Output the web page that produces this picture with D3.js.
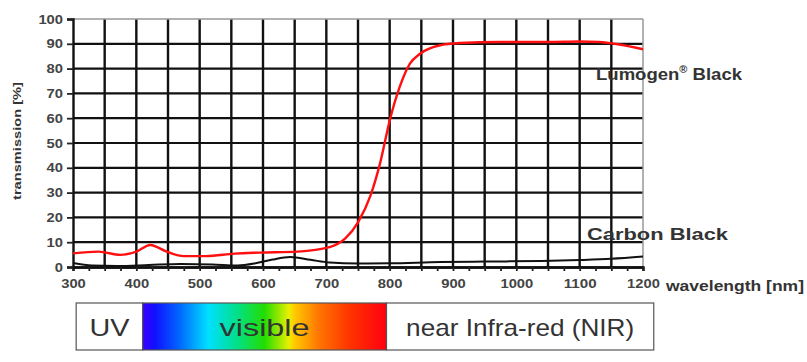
<!DOCTYPE html>
<html>
<head>
<meta charset="utf-8">
<script src="https://cdn.jsdelivr.net/npm/d3@7"></script>
<style>
  body { margin: 0; background: #fff; }
  svg { font-family: "Liberation Sans", Arial, sans-serif; }
</style>
</head>
<body>
<div id="chart"></div>
<script>
// Wavelength (nm) and transmission (%)
const lumogenNm  = [300, 340, 375, 400, 422, 448, 475, 510, 555, 595, 655, 705, 730, 750, 770, 785, 800, 815, 832, 848, 878, 910, 975, 1050, 1100, 1130, 1160, 1200];
const lumogenVal = [5.5, 6.2, 4.9, 6.2, 8.9, 6.2, 4.4, 4.4, 5.4, 5.8, 6.2, 8.0, 11.5, 18, 29, 42, 59, 72, 82, 86, 89.3, 90.3, 90.7, 90.7, 90.9, 90.7, 89.8, 87.8];

const carbonNm  = [300, 330, 370, 420, 470, 520, 560, 590, 615, 643, 675, 705, 750, 800, 880, 950, 1040, 1100, 1150, 1200];
const carbonVal = [1.6, 0.6, 0.4, 0.8, 1.2, 1.0, 0.6, 1.6, 3.0, 4.0, 2.9, 1.8, 1.4, 1.5, 2.0, 2.2, 2.4, 2.8, 3.3, 4.2];

const xTicks = [300, 400, 500, 600, 700, 800, 900, 1000, 1100, 1200];
const yTicks = [0, 10, 20, 30, 40, 50, 60, 70, 80, 90, 100];

// spectrum strip under the chart, in nm
const bandNames = ["UV", "visible", "near Infra-red (NIR)"];
const bandStart = [305, 410, 795];
const bandEnd   = [410, 795, 1217];

const width = 807, height = 362;
const margin = {top: 19, right: 164, bottom: 95, left: 73};
const plotW = width - margin.left - margin.right;
const plotH = height - margin.top - margin.bottom;

const svg = d3.select("#chart")
  .append("svg")
  .attr("width", width)
  .attr("height", height);

const g = svg.append("g")
  .attr("transform", `translate(${margin.left},${margin.top})`);

const x = d3.scaleLinear().domain([300, 1200]).range([0, plotW]);
const y = d3.scaleLinear().domain([0, 100]).range([plotH, 0]);

// grid
g.selectAll(".vgrid")
  .data(d3.range(350, 1200, 50))
  .enter().append("line")
  .attr("x1", d => x(d)).attr("x2", d => x(d))
  .attr("y1", 0).attr("y2", plotH)
  .attr("stroke", "#111").attr("stroke-width", 2.4);

g.selectAll(".hgrid")
  .data(d3.range(10, 100, 10))
  .enter().append("line")
  .attr("x1", 0).attr("x2", plotW)
  .attr("y1", d => y(d)).attr("y2", d => y(d))
  .attr("stroke", "#111").attr("stroke-width", 2.2);

// frame: grey top/right, black left/bottom
g.append("line").attr("x1", 0).attr("x2", plotW).attr("y1", 0).attr("y2", 0)
  .attr("stroke", "#999").attr("stroke-width", 1.5);
g.append("line").attr("x1", plotW).attr("x2", plotW).attr("y1", 0).attr("y2", plotH)
  .attr("stroke", "#999").attr("stroke-width", 1.5);

// axes
const xAxis = g.append("g")
  .attr("transform", `translate(0,${plotH})`)
  .call(d3.axisBottom(x).tickValues(xTicks).tickSize(0).tickPadding(12).tickFormat(d3.format("d")));
const xMinor = g.append("g")
  .attr("transform", `translate(0,${plotH})`)
  .call(d3.axisBottom(x).tickValues(d3.range(300, 1201, 25)).tickSize(4).tickFormat(""));
const yAxis = g.append("g")
  .call(d3.axisLeft(y).tickValues(yTicks).tickSize(6).tickPadding(4));

[xAxis, xMinor, yAxis].forEach(a => {
  a.select(".domain").attr("stroke", "#111").attr("stroke-width", 2.4);
  a.selectAll(".tick line").attr("stroke", "#222").attr("stroke-width", 1.8);
  a.selectAll("text")
    .attr("font-size", 13)
    .attr("font-weight", "bold")
    .attr("fill", "#444")
    .attr("textLength", d => String(d).length * 8.2)
    .attr("lengthAdjust", "spacingAndGlyphs")
    .style("font-family", "'Liberation Sans', Arial, sans-serif");
});

// curves
const line = d3.line().curve(d3.curveMonotoneX)
  .x(d => x(d[0])).y(d => y(d[1]));

g.append("path")
  .datum(d3.zip(carbonNm, carbonVal))
  .attr("fill", "none").attr("stroke", "#111").attr("stroke-width", 2)
  .attr("d", line);

g.append("path")
  .datum(d3.zip(lumogenNm, lumogenVal))
  .attr("fill", "none").attr("stroke", "#ff1010").attr("stroke-width", 2.4)
  .attr("d", line);

// labels
const lum = svg.append("text")
  .attr("x", 596).attr("y", 80)
  .attr("font-size", 17).attr("font-weight", "bold").attr("fill", "#333")
  .attr("textLength", 146).attr("lengthAdjust", "spacingAndGlyphs");
lum.append("tspan").text("Lumogen");
lum.append("tspan").attr("font-size", 10).attr("dy", -7).text("®");
lum.append("tspan").attr("dy", 7).text(" Black");

svg.append("text")
  .attr("x", 587).attr("y", 240)
  .attr("font-size", 17).attr("font-weight", "bold").attr("fill", "#333")
  .attr("textLength", 141).attr("lengthAdjust", "spacingAndGlyphs")
  .text("Carbon Black");

svg.append("text")
  .attr("x", 666).attr("y", 291)
  .attr("font-size", 14).attr("font-weight", "bold").attr("fill", "#333")
  .attr("textLength", 138).attr("lengthAdjust", "spacingAndGlyphs")
  .text("wavelength [nm]");

svg.append("text")
  .attr("transform", "translate(21,141) rotate(-90)")
  .attr("text-anchor", "middle")
  .attr("font-size", 10.5).attr("font-weight", "bold").attr("fill", "#333")
  .attr("textLength", 118).attr("lengthAdjust", "spacingAndGlyphs")
  .text("transmission [%]");

// spectrum strip
const defs = svg.append("defs");
const grad = defs.append("linearGradient").attr("id", "spec")
  .attr("x1", "0%").attr("x2", "100%").attr("y1", "0%").attr("y2", "0%");
[[0, "#3a00ff"], [0.05, "#1010ff"], [0.15, "#0066ff"], [0.27, "#00e0ff"],
 [0.38, "#00e090"], [0.5, "#22dd00"], [0.6, "#e8f000"], [0.62, "#ffcc00"],
 [0.72, "#ff7700"], [0.85, "#ff3300"], [1, "#ff0010"]]
  .forEach(s => grad.append("stop").attr("offset", s[0]).attr("stop-color", s[1]));

const stripTop = 303, stripH = 47;
const labelLen = [40, 90, 228];
const strip = svg.append("g").attr("transform", `translate(${margin.left},0)`);

strip.selectAll(".band")
  .data(bandNames)
  .enter().append("rect")
  .attr("x", (d, i) => x(bandStart[i]))
  .attr("width", (d, i) => x(bandEnd[i]) - x(bandStart[i]))
  .attr("y", stripTop).attr("height", stripH)
  .attr("fill", (d, i) => i === 1 ? "url(#spec)" : "#fff")
  .attr("stroke", "#555").attr("stroke-width", 1.2);

strip.selectAll(".bandlabel")
  .data(bandNames)
  .enter().append("text")
  .attr("x", (d, i) => (x(bandStart[i]) + x(bandEnd[i])) / 2 - labelLen[i] / 2)
  .attr("y", stripTop + stripH / 2 + 9)
  .attr("font-size", 24).attr("fill", "#333")
  .attr("textLength", (d, i) => labelLen[i]).attr("lengthAdjust", "spacingAndGlyphs")
  .text(d => d);
</script>
</body>
</html>
